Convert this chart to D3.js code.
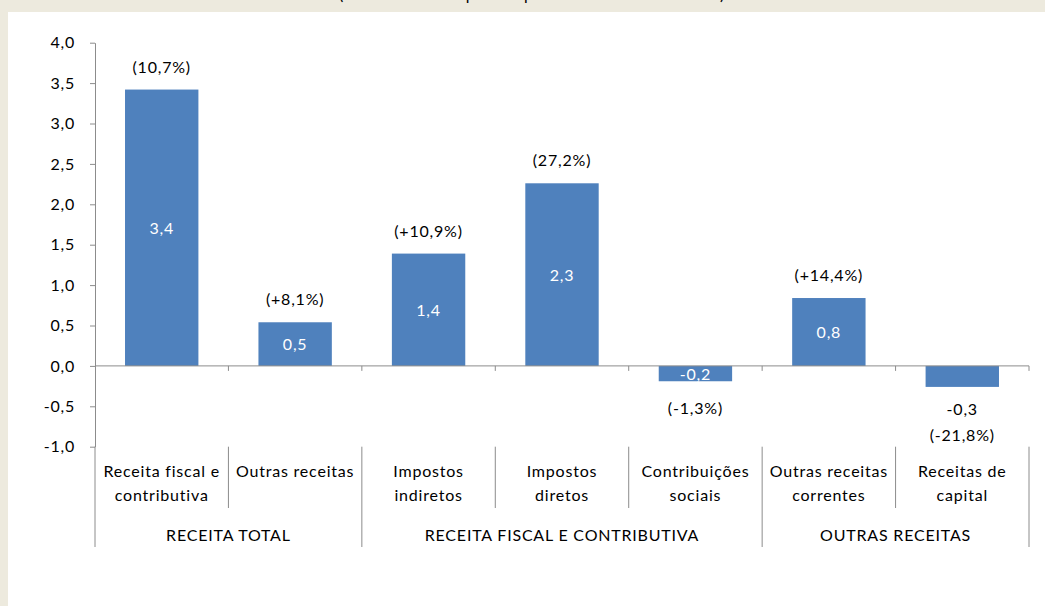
<!DOCTYPE html>
<html>
<head>
<meta charset="utf-8">
<script src="https://cdn.jsdelivr.net/npm/d3@7"></script>
<style>
  body { margin: 0; background: #edeade; }
  svg { display: block; font-family: Lato, "Open Sans", sans-serif; letter-spacing: 0.8px; }
</style>
</head>
<body>
<script>
// Chart data
var categories = [
  ["Receita fiscal e", "contributiva"],
  ["Outras receitas"],
  ["Impostos", "indiretos"],
  ["Impostos", "diretos"],
  ["Contribuições", "sociais"],
  ["Outras receitas", "correntes"],
  ["Receitas de", "capital"]
];
var values = [3.42, 0.54, 1.39, 2.26, -0.19, 0.84, -0.26];
var growth = ["(10,7%)", "(+8,1%)", "(+10,9%)", "(27,2%)", "(-1,3%)", "(+14,4%)", "(-21,8%)"];
var groupNames = ["RECEITA TOTAL", "RECEITA FISCAL E CONTRIBUTIVA", "OUTRAS RECEITAS"];
var groupSizes = [2, 3, 2];
var yTicks = [-1, -0.5, 0, 0.5, 1, 1.5, 2, 2.5, 3, 3.5, 4];
var title = "(contributos em pontos percentuais e taxas em %)";

// Chart parameters
var svgWidth = 1045;
var svgHeight = 606;
var axisColor = "#8c8c8c";
var barColor = "#4f81bd";
var fontSize = 16;

var pt = d3.formatLocale({ decimal: ",", thousands: ".", grouping: [3], currency: ["", "€"], minus: "-" });
var fmt = pt.format(".1f");

var svg = d3.select("body")
            .append("svg")
            .attr("width", svgWidth)
            .attr("height", svgHeight);

// beige frame + white panel
svg.append("rect").attr("width", svgWidth).attr("height", svgHeight).attr("fill", "#edeade");
svg.append("rect").attr("x", 8).attr("y", 12).attr("width", svgWidth - 8).attr("height", svgHeight - 12).attr("fill", "#fff");

// title, clipped by the top of the picture (as in the original)
svg.append("text")
   .attr("x", 532)
   .attr("y", 0)
   .attr("text-anchor", "middle")
   .attr("font-size", fontSize)
   .attr("fill", "#000")
   .text(title);

// scales
var x = d3.scaleBand()
          .domain(d3.range(values.length))
          .range([95, 1029])
          .paddingInner(0.45)
          .paddingOuter(0.225);

var y = d3.scaleLinear().domain([-1, 4]).range([446.7, 42.7]);

// y axis
var leftAxis = d3.axisLeft(y)
                 .tickValues(yTicks)
                 .tickSize(5)
                 .tickSizeOuter(0)
                 .tickFormat(fmt);

var yAxisG = svg.append("g")
                .attr("transform", "translate(95,0)")
                .call(leftAxis);
yAxisG.selectAll("path, line").attr("stroke", axisColor);
yAxisG.selectAll("text")
      .attr("font-size", fontSize)
      .attr("fill", "#000")
      .attr("font-family", "Lato, sans-serif")
      .attr("x", -20);

// bars
svg.selectAll("rect.bar")
   .data(values)
   .enter()
   .append("rect")
   .attr("class", "bar")
   .attr("x", (d, i) => x(i))
   .attr("y", d => y(Math.max(0, d)))
   .attr("width", x.bandwidth())
   .attr("height", d => Math.abs(y(d) - y(0)))
   .attr("fill", barColor);

// zero line with ticks at category boundaries
var step = x.step();
var bounds = d3.range(values.length + 1).map(i => 95 + i * step);

svg.append("line")
   .attr("x1", 95).attr("x2", 1029)
   .attr("y1", y(0)).attr("y2", y(0))
   .attr("stroke", axisColor);

svg.selectAll("line.xtick")
   .data(bounds.slice(1))
   .enter()
   .append("line")
   .attr("class", "xtick")
   .attr("x1", d => d).attr("x2", d => d)
   .attr("y1", y(0)).attr("y2", y(0) + 5)
   .attr("stroke", axisColor);

// category separators (leaf and group)
var groupEdges = [0];
groupSizes.forEach(function(s, i) { groupEdges.push(groupEdges[i] + s); });

svg.selectAll("line.sep")
   .data(d3.range(values.length + 1))
   .enter()
   .append("line")
   .attr("x1", i => bounds[i]).attr("x2", i => bounds[i])
   .attr("y1", y(-1))
   .attr("y2", i => groupEdges.indexOf(i) >= 0 ? 547 : 508)
   .attr("stroke", axisColor);

// category labels
categories.forEach(function(lines, i) {
  var t = svg.append("text")
             .attr("text-anchor", "middle")
             .attr("font-size", fontSize)
             .attr("fill", "#000");
  lines.forEach(function(l, j) {
    t.append("tspan")
     .attr("x", x(i) + x.bandwidth() / 2)
     .attr("y", 477 + j * 24)
     .text(l);
  });
});

// group labels
groupNames.forEach(function(g, i) {
  svg.append("text")
     .attr("x", (bounds[groupEdges[i]] + bounds[groupEdges[i + 1]]) / 2)
     .attr("y", 541)
     .attr("text-anchor", "middle")
     .attr("font-size", fontSize)
     .attr("fill", "#000")
     .text(g);
});

// value labels: inside bars, the last one sits below its bar
var outside = values.length - 1;
svg.selectAll("text.val")
   .data(values)
   .enter()
   .append("text")
   .attr("class", "val")
   .attr("x", (d, i) => x(i) + x.bandwidth() / 2)
   .attr("y", (d, i) => i === outside ? y(d) + 28 : (y(d) + y(0)) / 2 + 6)
   .attr("text-anchor", "middle")
   .attr("font-size", fontSize)
   .attr("fill", (d, i) => i === outside ? "#000" : "#fff")
   .text(d => fmt(d));

// growth labels
svg.selectAll("text.growth")
   .data(growth)
   .enter()
   .append("text")
   .attr("class", "growth")
   .attr("x", (d, i) => x(i) + x.bandwidth() / 2)
   .attr("y", function(d, i) {
     var v = values[i];
     if (i === outside) return y(v) + 54;
     return v >= 0 ? y(v) - 17 : y(v) + 33;
   })
   .attr("text-anchor", "middle")
   .attr("font-size", fontSize)
   .attr("fill", "#000")
   .text(d => d);
</script>
</body>
</html>
